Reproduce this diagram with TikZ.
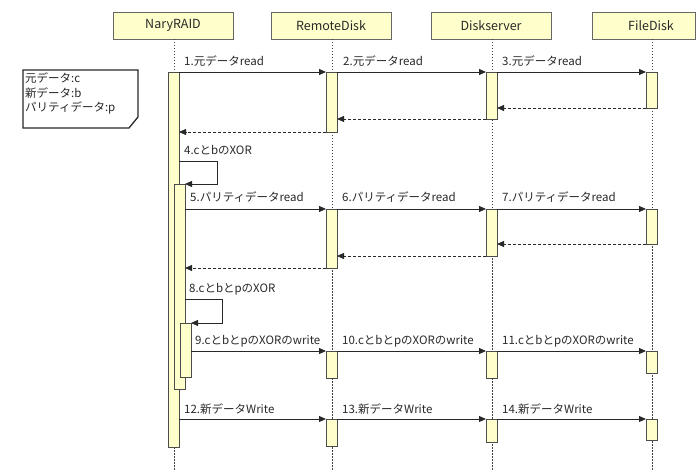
\documentclass[tikz,border=0pt]{standalone}
\usepackage{fontspec}
\setmainfont{Noto Sans CJK JP}
\usetikzlibrary{arrows.meta}
\definecolor{yel}{RGB}{255,255,204}
\definecolor{ink}{RGB}{40,40,40}
\newcommand\actbox[5]{\node[actbar,minimum width={(#3-#2)*1pt},minimum height={(#5-#4)*1pt}] (#1) at (#2,#4) {};}
\begin{document}
\begin{tikzpicture}[x=1pt,y=-1pt,
  every node/.style={font=\fontsize{11.5}{14.5}\selectfont, text=ink},
  head/.style={draw=black!60, fill=yel, minimum width=120pt, minimum height=27pt, inner sep=0pt, font=\fontsize{12.5}{14}\selectfont},
  life/.style={draw=black!75, dash pattern=on 1.5pt off 1.5pt, line width=0.8pt},
  actbar/.style={draw=black!70, fill=yel, inner sep=0pt, outer sep=0pt, anchor=north west, line width=0.8pt},
  msg/.style={draw=ink, line width=0.8pt, -{Triangle[length=7pt,width=6pt]}},
  ret/.style={msg, dash pattern=on 3pt off 2pt},
  lbl/.style={anchor=base west, inner sep=0pt}
]
\useasboundingbox (0,0) rectangle (698,470);
% heads
\node[head] (hNR) at (173,25.5) {NaryRAID};
\node[head] (hRD) at (331,25.5) {RemoteDisk};
\node[head] (hDS) at (491,25.5) {Diskserver};
\node[head,minimum width=103pt] (hFD) at (643.5,25.5) {\hspace*{15pt}FileDisk};
% lifelines
\coordinate (tNR) at (174,39); \coordinate (eNR) at (174,470);
\coordinate (tRD) at (332,39); \coordinate (eRD) at (332,470);
\coordinate (tDS) at (492,39); \coordinate (eDS) at (492,470);
\coordinate (tFD) at (652,39); \coordinate (eFD) at (652,470);
\draw[life] (tNR) -- (eNR);
\draw[life] (tRD) -- (eRD);
\draw[life] (tDS) -- (eDS);
\draw[life] (tFD) -- (eFD);
% note
\draw[draw=ink, fill=white, line width=1.3pt] (23,70) -- (138,70) -- (138,117) -- (129,128) -- (23,128) -- cycle;
\node[anchor=north west, align=left, inner sep=0pt] (note) at (25,73) {元データ:c\\新データ:b\\パリティデータ:p};
% activation bars
\actbox{nr1}{168}{179}{72}{447}
\actbox{nr2}{174}{185}{184}{389}
\actbox{nr3}{180}{191}{323}{377}
\actbox{rd1}{326}{337}{72}{132}
\actbox{rd2}{326}{337}{209}{268}
\actbox{rd3}{326}{337}{351}{378}
\actbox{rd4}{326}{337}{419}{446}
\actbox{ds1}{486}{497}{72}{119}
\actbox{ds2}{486}{497}{209}{256}
\actbox{ds3}{486}{497}{351}{378}
\actbox{ds4}{486}{497}{419}{442}
\actbox{fd1}{646}{657}{72}{108}
\actbox{fd2}{646}{657}{209}{244}
\actbox{fd3}{646}{657}{351}{373}
\actbox{fd4}{646}{657}{419}{440}
% messages 1-3
\draw[msg] (nr1.east |- rd1.north) -- (rd1.north west);
\draw[msg] (rd1.north east) -- (ds1.north west);
\draw[msg] (ds1.north east) -- (fd1.north west);
\node[lbl] (m1) at (184,66) {1.元データread};
\node[lbl] (m2) at (343,66) {2.元データread};
\node[lbl] (m3) at (502,66) {3.元データread};
\draw[ret] (fd1.south west) -- (ds1.east |- fd1.south);
\draw[ret] (ds1.south west) -- (rd1.east |- ds1.south);
\draw[ret] (rd1.south west) -- (nr1.east |- rd1.south);
% 4 self
\node[lbl] (m4) at (184,155) {4.cとbのXOR};
\coordinate (s4a) at (217,161);
\coordinate (s4b) at (217,184);
\draw[msg] (nr1.east |- s4a) -- (s4a) -- (s4b) -- (nr2.north east);
% messages 5-7
\draw[msg] (nr2.east |- rd2.north) -- (rd2.north west);
\draw[msg] (rd2.north east) -- (ds2.north west);
\draw[msg] (ds2.north east) -- (fd2.north west);
\node[lbl] (m5) at (190,202) {5.パリティデータread};
\node[lbl] (m6) at (342,202) {6.パリティデータread};
\node[lbl] (m7) at (502,202) {7.パリティデータread};
\draw[ret] (fd2.south west) -- (ds2.east |- fd2.south);
\draw[ret] (ds2.south west) -- (rd2.east |- ds2.south);
\draw[ret] (rd2.south west) -- (nr2.east |- rd2.south);
% 8 self
\node[lbl] (m8) at (189,292) {8.cとbとpのXOR};
\coordinate (s8a) at (222,299);
\coordinate (s8b) at (222,323);
\draw[msg] (nr2.east |- s8a) -- (s8a) -- (s8b) -- (nr3.north east);
% messages 9-11
\draw[msg] (nr3.east |- rd3.north) -- (rd3.north west);
\draw[msg] (rd3.north east) -- (ds3.north west);
\draw[msg] (ds3.north east) -- (fd3.north west);
\node[lbl] (m9) at (195,344) {9.cとbとpのXORのwrite};
\node[lbl] (m10) at (342,344) {10.cとbとpのXORのwrite};
\node[lbl] (m11) at (502,344) {11.cとbとpのXORのwrite};
% messages 12-14
\draw[msg] (nr1.east |- rd4.north) -- (rd4.north west);
\draw[msg] (rd4.north east) -- (ds4.north west);
\draw[msg] (ds4.north east) -- (fd4.north west);
\node[lbl] (m12) at (184,413) {12.新データWrite};
\node[lbl] (m13) at (342,413) {13.新データWrite};
\node[lbl] (m14) at (502,413) {14.新データWrite};
\end{tikzpicture}
\end{document}
